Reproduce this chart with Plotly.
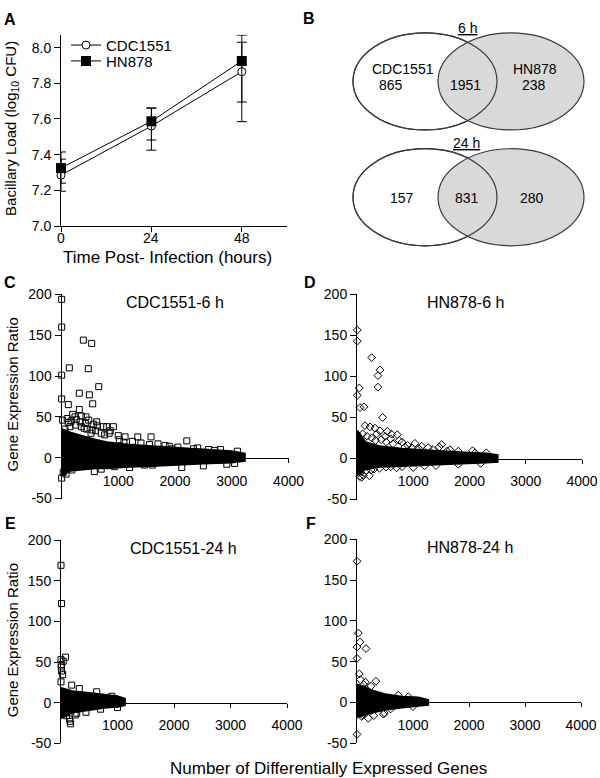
import plotly.graph_objects as go

# layout is designed on the 600x778 picture; the figure itself is sized to the
# browser's css viewport, which the capture maps back onto 600x778
DESIGN_W, DESIGN_H = 600, 778
W, H = 616, 787
FONT = "Liberation Sans, Arial, sans-serif"

# ---- panel A: bacillary load over time ----
time_h = [0, 24, 48]
cdc_load = [7.285, 7.56, 7.865]
cdc_err_plus = [0.09, 0.10, 0.165]
cdc_err_minus = [0.09, 0.135, 0.17]
hn_load = [7.325, 7.587, 7.925]
hn_err_plus = [0.09, 0.075, 0.145]
hn_err_minus = [0.085, 0.105, 0.34]

# ---- panel B: venn counts (CDC1551 only, shared, HN878 only) ----
venn_6h = [865, 1951, 238]
venn_24h = [157, 831, 280]

# ---- panels C-F: dense core of the cloud (envelope) + visible single genes ----
c_band_x = [0, 50, 150, 400, 600, 800, 1200, 1600, 2000, 2500, 3000, 3230]
c_band_hi = [35, 34, 31, 26, 22, 19, 16, 14, 12, 10, 8, 5]
c_band_lo = [-22, -20, -16, -14, -13, -13, -11, -10, -9, -7, -6, -4]
c_out_x = [3, 3, 3, 3, 138, 385, 532, 473, 314, 491, 656, 550, 120, 314, 197, 432,
           350, 20, 238, 797, 914, 737, 860, 630, 120, 1120, 1344, 1578, 2208, 1460,
           1601, 2120, 2913, 578, 931, 3, 180, 2325, 2590, 1943, 1825, 60, 250, 400,
           540, 700, 1000, 1250, 1700, 2400, 2800, 3100, 700, 1200, 2500, 3050, 30, 80,
           100, 170, 260, 330, 420, 480, 560, 620, 150, 350, 450, 520, 600, 760, 840,
           1020, 1100, 1400, 1550, 1900, 2050, 2700]
c_out_y = [194, 160, 101, 72, 110, 144, 140, 109, 79, 77, 87, 66, 65, 59, 53, 50,
           51, 46, 50, 38, 38, 38, 33, 39, 43, 25.5, 25.5, 25.5, 20.6, -9,
           -9, -12, -8, -17, -11, -25, -15, 11, 10, 11, 15, 35, 40, 36,
           34, 30, 27, 20, 17, 12, 10, 8, -14, -12, -10, -7, -18, -20,
           48, 45, 47, 44, 42, 46, 41, 44, 38, 38, 35, 30, 33, 28, 30,
           22, 19, 18, 16, 14, 13, 9]

d_band_x = [0, 50, 150, 400, 800, 1200, 1600, 2000, 2300, 2500]
d_band_hi = [34, 30, 20, 15, 12, 10, 8.5, 7, 6, 4]
d_band_lo = [-21, -18, -13, -10, -9, -8, -7, -6, -5, -4]
d_out_x = [5, 5, 261, 408, 373, 373, 41, 5, 53, 124, 456, 142, 231, 320, 408, 538,
           616, 716, 1030, 1267, 1462, 1504, 1652, 2055, 219, 83, 515, 705, 1000,
           1403, 112, 60, 900, 800, 600, 500, 350, 1200, 1800, 2200, 300, 160, 1150,
           1800, 2300, 100, 180, 260, 330, 430, 520, 640, 750, 850, 980, 1100, 1350,
           1600, 2100, 50, 250, 400, 600, 800]
d_out_y = [156.5, 143, 123, 108, 101, 87, 86, 77, 62, 63, 50, 40, 38.5, 37, 33.7, 33,
           29.7, 29, 18.5, 13.3, 14, 17, 10.7, 9.5, -21, -23, -10.5, -11.3, -11,
           -8.6, -20.6, -17, 16, 20, 24, 27, 30, -9, -7, -6, -13, -15, 15,
           9, 7, 30, 27, 25, 22, 23, 20, 18, 22, 14, 13, 12, 11,
           9, 7, -22, -14, -12, -10, -10]

e_band_x = [0, 60, 200, 500, 800, 1000, 1130]
e_band_hi = [18, 17, 14, 12, 10, 8, 5]
e_band_lo = [-19, -17, -12, -9, -6, -5, -3]
e_out_x = [0, 9, 0, 80, 5, 5, 30, 0, 189, 324, 632, 442, 159, 278, 40, 10, 150, 170,
           100, 250, 700, 900, 1000]
e_out_y = [169, 122, 53, 56, 47, 44, 34.5, 25.6, 21.6, 17.4, 13.4, -11.8, -23, -13,
           51, 39, -20, -26, -16, -15, -8, 8, -6]

f_band_x = [0, 100, 300, 500, 800, 1100, 1270]
f_band_hi = [22, 20, 14, 10, 7, 6, 3]
f_band_lo = [-18, -16, -12, -9, -6, -4, -3]
f_out_x = [0, 24, 54, 0, 161, 0, 42, 339, 0, 202, 84, 470, 738, 95, 488, 917, 150,
           250, 300, 600, 1000, 60, 120]
f_out_y = [173, 85, 74, 68, 66, 54, 35, 26, -39, -19.3, -17, -14.4, 9, -15, -13, 7,
           25, 20, -16, -8, -5, 28, 22]

y_ticks = [-50, 0, 50, 100, 150, 200]
x_ticks = [1000, 2000, 3000, 4000]


def fx(p):
    return p / DESIGN_W


def fy(p):
    return 1 - p / DESIGN_H


def ann(text, x, y, size, **kw):
    d = dict(text=text, x=fx(x), y=fy(y), xref='paper', yref='paper',
             showarrow=False, xanchor='center', yanchor='middle',
             font=dict(family=FONT, size=size, color='black'))
    d.update(kw)
    return d


axis_style = dict(showline=True, linecolor='black', linewidth=1, ticks='outside',
                  ticklen=6, tickwidth=1, tickcolor='black', showgrid=False,
                  zeroline=False, tickfont=dict(family=FONT, size=14, color='black'))

fig = go.Figure()

# panel A
fig.add_trace(go.Scatter(
    x=time_h, y=cdc_load, name='CDC1551', mode='lines+markers', legend='legend',
    line=dict(color='black', width=1),
    marker=dict(symbol='circle', size=8, color='white', line=dict(color='black', width=1)),
    error_y=dict(type='data', array=cdc_err_plus, arrayminus=cdc_err_minus,
                 color='black', thickness=1, width=5),
    cliponaxis=False, xaxis='x', yaxis='y'))
fig.add_trace(go.Scatter(
    x=time_h, y=hn_load, name='HN878', mode='lines+markers', legend='legend2',
    line=dict(color='black', width=1),
    marker=dict(symbol='square', size=10, color='black'),
    error_y=dict(type='data', array=hn_err_plus, arrayminus=hn_err_minus,
                 color='black', thickness=1, width=5),
    cliponaxis=False, xaxis='x', yaxis='y'))

layout = dict(
    xaxis=dict(domain=[fx(61), fx(287)], range=[0, 60], tickvals=time_h,
               showticklabels=False, anchor='y', **{**axis_style, 'ticklen': 5}),
    yaxis=dict(domain=[fy(220), fy(27)], range=[7.0, 8.072],
               tickvals=[7.0, 7.2, 7.4, 7.6, 7.8, 8.0], tickformat='.1f',
               anchor='x', **axis_style),
)

annotations = []
# time tick labels of panel A, sat closer to the axis than plotly's default
for t in time_h:
    annotations.append(dict(text=str(t), x=t, xref='x', y=fy(232), yref='paper',
                            showarrow=False, xanchor='center', yanchor='middle',
                            font=dict(family=FONT, size=14, color='black')))

# panels C-F
panels = [
    ('CDC1551-6 h', c_band_x, c_band_hi, c_band_lo, c_out_x, c_out_y, 'square-open',
     (61.5, 288.5), (289, 495), 175),
    ('HN878-6 h', d_band_x, d_band_hi, d_band_lo, d_out_x, d_out_y, 'diamond-open',
     (357, 582), (289, 496), 465),
    ('CDC1551-24 h', e_band_x, e_band_hi, e_band_lo, e_out_x, e_out_y, 'square-open',
     (61, 287), (537, 742), 183),
    ('HN878-24 h', f_band_x, f_band_hi, f_band_lo, f_out_x, f_out_y, 'diamond-open',
     (357, 581), (536, 742), 470),
]

for i, (title, bx, bhi, blo, ox, oy, sym, xpx, ypx, tx) in enumerate(panels):
    n = i + 2
    xa, ya = f'x{n}', f'y{n}'
    fig.add_trace(go.Scatter(
        x=bx + bx[::-1], y=bhi + blo[::-1], mode='lines', fill='toself',
        fillcolor='black', line=dict(color='black', width=2),
        hoverinfo='skip', showlegend=False, xaxis=xa, yaxis=ya))
    fig.add_trace(go.Scatter(
        x=ox, y=oy, mode='markers', showlegend=False, cliponaxis=False,
        marker=dict(symbol=sym, size=6, color='black', line=dict(width=1)),
        xaxis=xa, yaxis=ya))
    yrange = [-50, 200]
    d0, d1 = fy(ypx[1]), fy(ypx[0])
    zero_pos = d0 + (0 - yrange[0]) / (yrange[1] - yrange[0]) * (d1 - d0)
    layout[f'xaxis{n}'] = dict(domain=[fx(xpx[0]), fx(xpx[1])], range=[0, 4000],
                               tickvals=x_ticks, anchor='free', position=zero_pos,
                               ticklabelstandoff=6, **{**axis_style, 'ticklen': 4})
    layout[f'yaxis{n}'] = dict(domain=[d0, d1], range=yrange, tickvals=y_ticks,
                               ticktext=[str(v) for v in y_ticks], anchor=xa,
                               **axis_style)
    annotations.append(ann(title, tx, ypx[0] + 8, 16))

# panel B: venn diagrams
shapes = []
line_c = '#3a3a3a'
for top in (25, 142):
    bot = top + 98
    shapes.append(dict(type='circle', xref='paper', yref='paper', x0=fx(353), x1=fx(497),
                       y0=fy(bot), y1=fy(top), fillcolor='white',
                       line=dict(color=line_c, width=1.2)))
    shapes.append(dict(type='circle', xref='paper', yref='paper', x0=fx(438), x1=fx(584),
                       y0=fy(bot), y1=fy(top), fillcolor='#d9d9d9',
                       line=dict(color=line_c, width=1.2)))
    shapes.append(dict(type='circle', xref='paper', yref='paper', x0=fx(353), x1=fx(497),
                       y0=fy(bot), y1=fy(top), fillcolor='rgba(0,0,0,0)',
                       line=dict(color=line_c, width=1.2)))

annotations += [
    ann('<u>6 h</u>', 467.5, 20, 14),
    ann('CDC1551', 403, 62, 14),
    ann(str(venn_6h[0]), 391, 78, 14),
    ann(str(venn_6h[1]), 465.5, 78, 14),
    ann('HN878', 534.5, 62, 14),
    ann(str(venn_6h[2]), 533.5, 78, 14),
    ann('<u>24 h</u>', 466.5, 136, 14),
    ann(str(venn_24h[0]), 401.5, 192, 14),
    ann(str(venn_24h[1]), 466.5, 192, 14),
    ann(str(venn_24h[2]), 531.5, 192, 14),
]

# axis titles
annotations += [
    ann('Bacillary Load (log<sub>10</sub> CFU)', 12, 122, 15, textangle=-90),
    ann('Time Post- Infection (hours)', 167.5, 252, 17),
    ann('Gene Expression Ratio', 12, 390, 15, textangle=-90),
    ann('Gene Expression Ratio', 12, 638, 15, textangle=-90),
    ann('Number of Differentially Expressed Genes', 328, 767, 17),
]

# panel letters
for letter, x, y in [('A', 10, 12), ('B', 309, 11), ('C', 10, 277),
                     ('D', 310, 277), ('E', 10, 520), ('F', 311, 520)]:
    annotations.append(ann(f'<b>{letter}</b>', x, y, 16))

legend_style = dict(xanchor='left', yanchor='top', bgcolor='rgba(0,0,0,0)',
                    font=dict(family=FONT, size=15, color='black'), itemwidth=30)

fig.update_layout(
    **layout,
    width=W, height=H,
    margin=dict(l=0, r=0, t=0, b=0),
    paper_bgcolor='white', plot_bgcolor='white',
    font=dict(family=FONT, size=14, color='black'),
    showlegend=True,
    legend=dict(x=fx(66), y=fy(21), **legend_style),
    legend2=dict(x=fx(66), y=fy(37), **legend_style),
    shapes=shapes,
    annotations=annotations,
)

fig.write_html("out.html", config={'displayModeBar': False},
               post_script="document.body.style.margin='0';"
                           "document.documentElement.style.overflow='hidden';")
